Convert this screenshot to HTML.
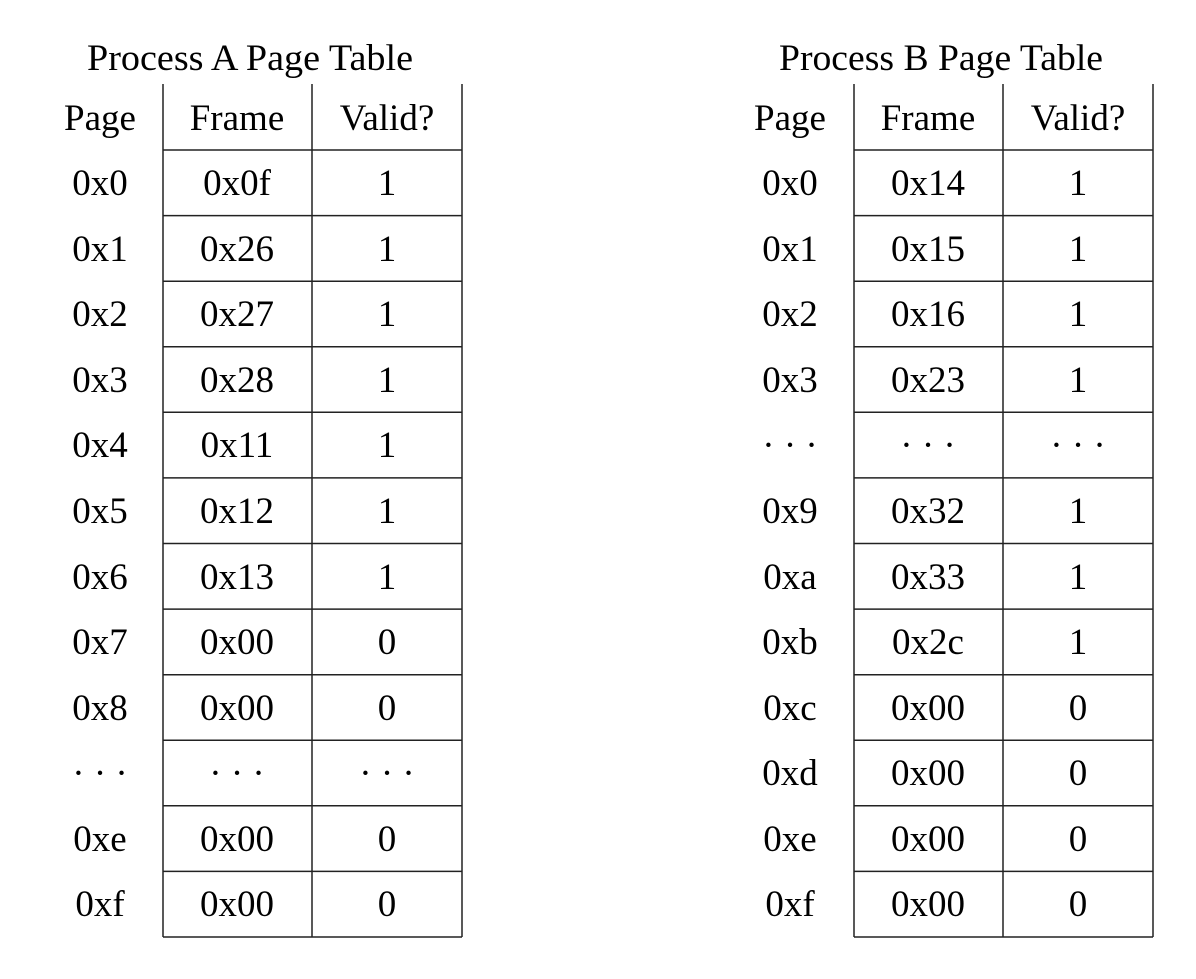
<!DOCTYPE html>
<html><head><style>html,body{margin:0;padding:0;background:#fff}</style></head>
<body>
<svg width="1196" height="974" xmlns="http://www.w3.org/2000/svg" font-family="Liberation Serif, serif" font-size="37" fill="#000">
<g stroke="#222" stroke-width="1.5">
<line x1="163" y1="84" x2="163" y2="937"/>
<line x1="312" y1="84" x2="312" y2="937"/>
<line x1="462" y1="84" x2="462" y2="937"/>
<line x1="163" y1="150" x2="462" y2="150"/>
<line x1="163" y1="215.6" x2="462" y2="215.6"/>
<line x1="163" y1="281.2" x2="462" y2="281.2"/>
<line x1="163" y1="346.7" x2="462" y2="346.7"/>
<line x1="163" y1="412.3" x2="462" y2="412.3"/>
<line x1="163" y1="477.9" x2="462" y2="477.9"/>
<line x1="163" y1="543.5" x2="462" y2="543.5"/>
<line x1="163" y1="609.1" x2="462" y2="609.1"/>
<line x1="163" y1="674.7" x2="462" y2="674.7"/>
<line x1="163" y1="740.2" x2="462" y2="740.2"/>
<line x1="163" y1="805.8" x2="462" y2="805.8"/>
<line x1="163" y1="871.4" x2="462" y2="871.4"/>
<line x1="163" y1="937" x2="462" y2="937"/>
</g>
<g stroke="#222" stroke-width="1.5">
<line x1="854" y1="84" x2="854" y2="937"/>
<line x1="1003" y1="84" x2="1003" y2="937"/>
<line x1="1153" y1="84" x2="1153" y2="937"/>
<line x1="854" y1="150" x2="1153" y2="150"/>
<line x1="854" y1="215.6" x2="1153" y2="215.6"/>
<line x1="854" y1="281.2" x2="1153" y2="281.2"/>
<line x1="854" y1="346.7" x2="1153" y2="346.7"/>
<line x1="854" y1="412.3" x2="1153" y2="412.3"/>
<line x1="854" y1="477.9" x2="1153" y2="477.9"/>
<line x1="854" y1="543.5" x2="1153" y2="543.5"/>
<line x1="854" y1="609.1" x2="1153" y2="609.1"/>
<line x1="854" y1="674.7" x2="1153" y2="674.7"/>
<line x1="854" y1="740.2" x2="1153" y2="740.2"/>
<line x1="854" y1="805.8" x2="1153" y2="805.8"/>
<line x1="854" y1="871.4" x2="1153" y2="871.4"/>
<line x1="854" y1="937" x2="1153" y2="937"/>
</g>
<g text-anchor="middle">
<text x="250" y="70" textLength="326" lengthAdjust="spacingAndGlyphs">Process A Page Table</text>
<text x="941" y="70" textLength="324" lengthAdjust="spacingAndGlyphs">Process B Page Table</text>
<text x="100" y="130">Page</text><text x="237" y="130">Frame</text><text x="387" y="130">Valid?</text>
<text x="790" y="130">Page</text><text x="928" y="130">Frame</text><text x="1078" y="130">Valid?</text>
<text x="100" y="195">0x0</text><text x="237" y="195">0x0f</text><text x="387" y="195">1</text>
<text x="100" y="261">0x1</text><text x="237" y="261">0x26</text><text x="387" y="261">1</text>
<text x="100" y="326">0x2</text><text x="237" y="326">0x27</text><text x="387" y="326">1</text>
<text x="100" y="392">0x3</text><text x="237" y="392">0x28</text><text x="387" y="392">1</text>
<text x="100" y="457">0x4</text><text x="237" y="457">0x11</text><text x="387" y="457">1</text>
<text x="100" y="523">0x5</text><text x="237" y="523">0x12</text><text x="387" y="523">1</text>
<text x="100" y="589">0x6</text><text x="237" y="589">0x13</text><text x="387" y="589">1</text>
<text x="100" y="654">0x7</text><text x="237" y="654">0x00</text><text x="387" y="654">0</text>
<text x="100" y="720">0x8</text><text x="237" y="720">0x00</text><text x="387" y="720">0</text>
<text x="100" y="785">· · ·</text><text x="237" y="785">· · ·</text><text x="387" y="785">· · ·</text>
<text x="100" y="851">0xe</text><text x="237" y="851">0x00</text><text x="387" y="851">0</text>
<text x="100" y="916">0xf</text><text x="237" y="916">0x00</text><text x="387" y="916">0</text>

<text x="790" y="195">0x0</text><text x="928" y="195">0x14</text><text x="1078" y="195">1</text>
<text x="790" y="261">0x1</text><text x="928" y="261">0x15</text><text x="1078" y="261">1</text>
<text x="790" y="326">0x2</text><text x="928" y="326">0x16</text><text x="1078" y="326">1</text>
<text x="790" y="392">0x3</text><text x="928" y="392">0x23</text><text x="1078" y="392">1</text>
<text x="790" y="457">· · ·</text><text x="928" y="457">· · ·</text><text x="1078" y="457">· · ·</text>
<text x="790" y="523">0x9</text><text x="928" y="523">0x32</text><text x="1078" y="523">1</text>
<text x="790" y="589">0xa</text><text x="928" y="589">0x33</text><text x="1078" y="589">1</text>
<text x="790" y="654">0xb</text><text x="928" y="654">0x2c</text><text x="1078" y="654">1</text>
<text x="790" y="720">0xc</text><text x="928" y="720">0x00</text><text x="1078" y="720">0</text>
<text x="790" y="785">0xd</text><text x="928" y="785">0x00</text><text x="1078" y="785">0</text>
<text x="790" y="851">0xe</text><text x="928" y="851">0x00</text><text x="1078" y="851">0</text>
<text x="790" y="916">0xf</text><text x="928" y="916">0x00</text><text x="1078" y="916">0</text>
</g>
</svg>
</body></html>
